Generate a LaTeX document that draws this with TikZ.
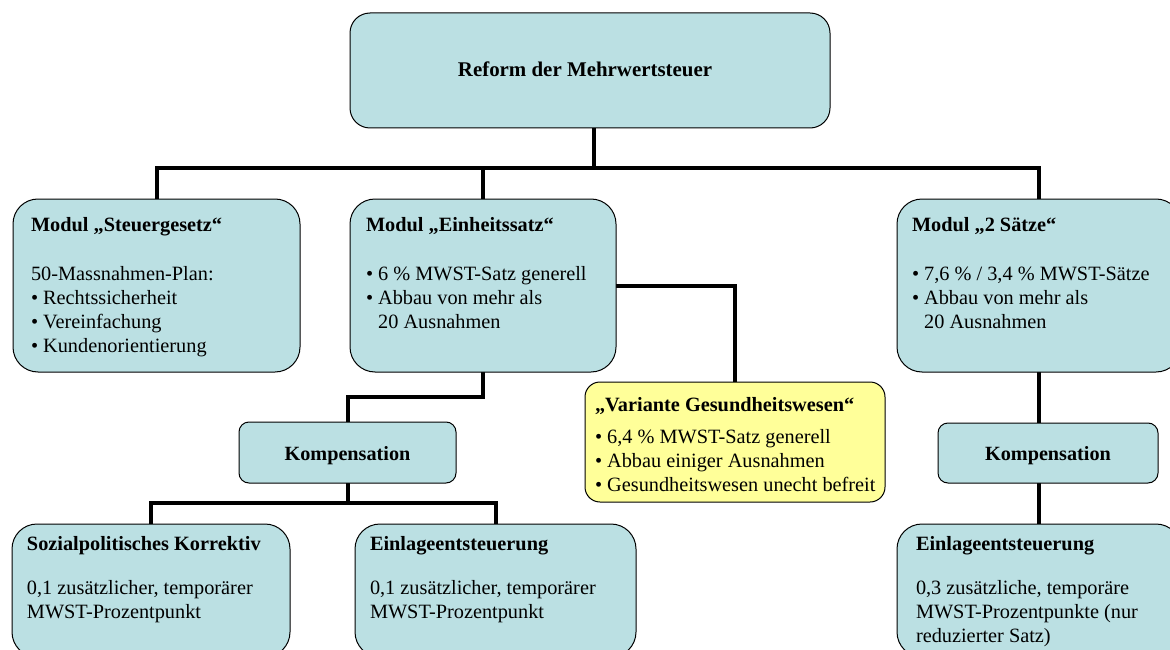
\documentclass[tikz,border=0pt]{standalone}
\usepackage{fontspec}
\setmainfont{Liberation Serif}
\usetikzlibrary{backgrounds}
\definecolor{boxcyan}{RGB}{187,224,227}
\definecolor{boxyellow}{RGB}{255,255,153}
\newcommand{\mybul}{•\ }
\newcommand{\myind}{\hphantom{•\ }}
\begin{document}
\begin{tikzpicture}[x=1pt,y=-1pt,
  box/.style={draw=black, line width=1pt, fill=boxcyan, rounded corners=25pt,
    inner sep=0pt, outer sep=0pt, anchor=north west},
  txt/.style={inner sep=0pt, outer sep=0pt, anchor=base west,
    font=\fontsize{20.3}{24}\selectfont},
  ctxt/.style={inner sep=0pt, outer sep=0pt, anchor=base,
    font=\fontsize{20.2}{24}\selectfont\bfseries},
  conn/.style={line width=4pt, draw=black, line join=miter}]
\useasboundingbox (0,0) rectangle (1170,650);
\clip (0,0) rectangle (1170,650);

% boxes
\node[box, rounded corners=20pt, minimum width=480pt, minimum height=115pt] (title) at (350,13) {};
\node[box, minimum width=287pt, minimum height=173pt] (steuer) at (13,199) {};
\node[box, minimum width=266pt, minimum height=173pt] (einh) at (350,199) {};
\node[box, minimum width=284pt, minimum height=173pt] (zwei) at (897,199) {};
\node[box, rounded corners=15pt, fill=boxyellow, minimum width=300pt, minimum height=120pt] (gesund) at (585,382) {};
\node[box, rounded corners=10pt, minimum width=217pt, minimum height=61pt] (kompA) at (239,422) {};
\node[box, rounded corners=10pt, minimum width=220pt, minimum height=60pt] (kompB) at (938,423) {};
\node[box, minimum width=278pt, minimum height=133pt] (sozial) at (12,524) {};
\node[box, minimum width=281pt, minimum height=133pt] (einlA) at (355,524) {};
\node[box, minimum width=284pt, minimum height=133pt] (einlB) at (897,524) {};

% texts
\node[ctxt, font=\fontsize{20.9}{24}\selectfont\bfseries] (titleT) at (585,77) {Reform der Mehrwertsteuer};
\node[txt] (steuerT) at (31,231) {\parbox[t]{270pt}{\baselineskip=24pt
  \textbf{Modul „Steuergesetz“}\\[25pt]
  50-Massnahmen-Plan:\\
  \mybul Rechtssicherheit\\
  \mybul Vereinfachung\\
  \mybul Kundenorientierung}};
\node[txt] (einhT) at (366,231) {\parbox[t]{250pt}{\baselineskip=24pt
  \textbf{Modul „Einheitssatz“}\\[25pt]
  \mybul 6 \% MWST-Satz generell\\
  \mybul Abbau von mehr als\\
  \myind 20 Ausnahmen}};
\node[txt] (zweiT) at (912,231) {\parbox[t]{260pt}{\baselineskip=24pt
  \textbf{Modul „2 Sätze“}\\[25pt]
  \mybul 7,6 \% / 3,4 \% MWST-Sätze\\
  \mybul Abbau von mehr als\\
  \myind 20 Ausnahmen}};
\node[txt] (gesundT) at (595,411) {\parbox[t]{290pt}{\baselineskip=24pt
  \textbf{„Variante Gesundheitswesen“}\\[8pt]
  \mybul 6,4 \% MWST-Satz generell\\
  \mybul Abbau einiger Ausnahmen\\
  \mybul Gesundheitswesen unecht befreit}};
\node[ctxt] (kompAT) at (347.5,460) {Kompensation};
\node[ctxt] (kompBT) at (1048,460) {Kompensation};
\node[txt] (sozialT) at (27,550) {\parbox[t]{270pt}{\baselineskip=24pt
  \textbf{Sozialpolitisches Korrektiv}\\[20pt]
  0,1 zusätzlicher, temporärer\\
  MWST-Prozentpunkt}};
\node[txt] (einlAT) at (370,550) {\parbox[t]{270pt}{\baselineskip=24pt
  \textbf{Einlageentsteuerung}\\[20pt]
  0,1 zusätzlicher, temporärer\\
  MWST-Prozentpunkt}};
\node[txt] (einlBT) at (916,550) {\parbox[t]{260pt}{\baselineskip=24pt
  \textbf{Einlageentsteuerung}\\[20pt]
  0,3 zusätzliche, temporäre\\
  MWST-Prozentpunkte (nur\\
  reduzierter Satz)}};

% connectors
\begin{scope}[on background layer]
\coordinate (busY) at (0,168);
\draw[conn] ([xshift=4pt]title.south) -- ([xshift=4pt]title.south |- busY);
\draw[conn] (steuer.north) |- (zwei.north |- busY) -- (zwei.north);
\draw[conn] (einh.north) -- (einh.north |- busY);
\draw[conn] (einh.east) -| (gesund.north);
\draw[conn] (einh.south) -- ++(0,25) -| (kompA.north);
\draw[conn] (kompA.south) -- ++(0,20) coordinate (botY);
\draw[conn] (sozial.north) |- (einlA.north |- botY) -- (einlA.north);
\draw[conn] (zwei.south) -- (zwei.south |- kompB.north);
\draw[conn] (einlB.north |- kompB.south) -- (einlB.north);
\end{scope}
\end{tikzpicture}
\end{document}
